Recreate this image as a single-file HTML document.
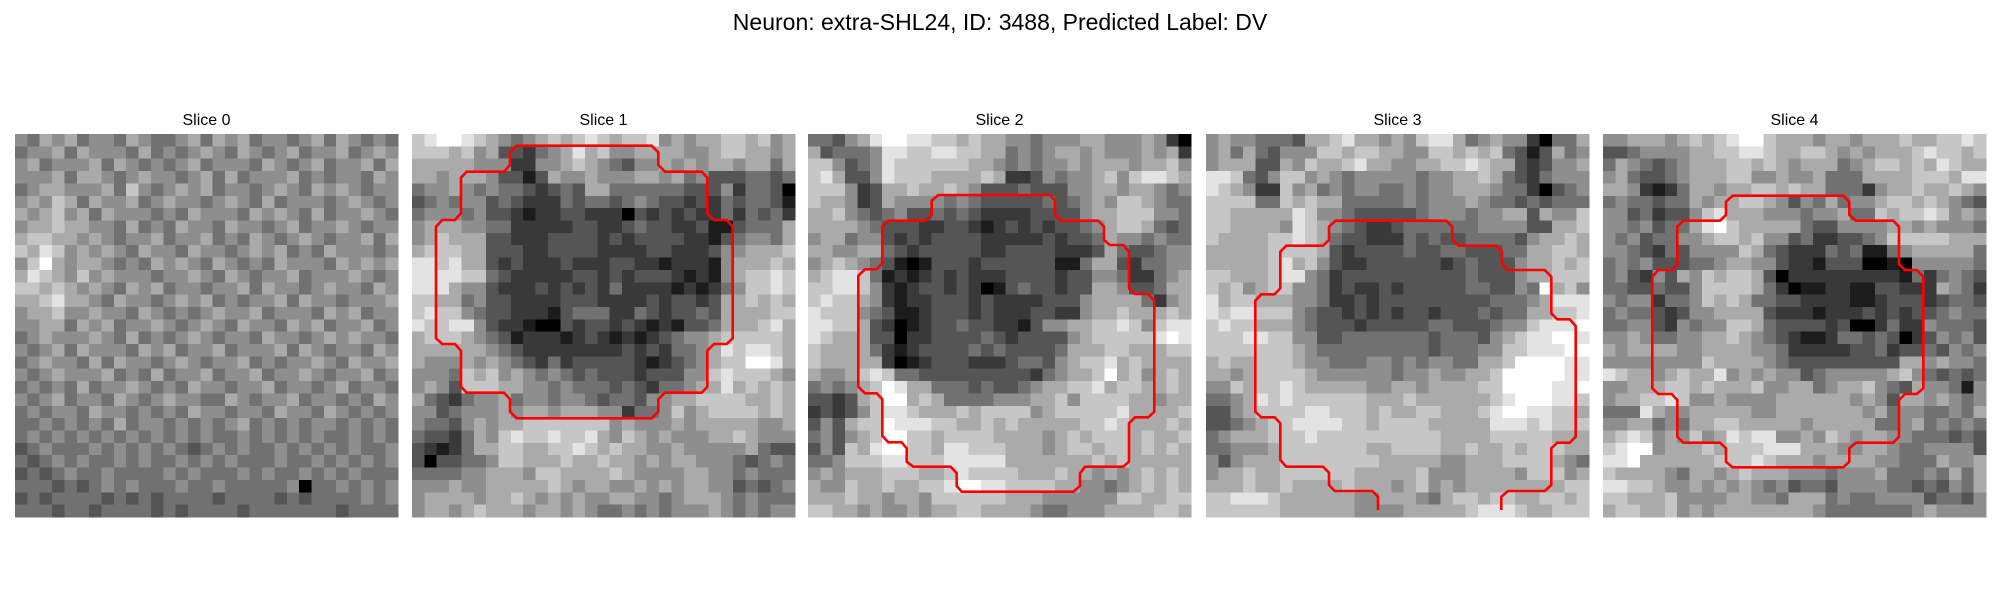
<!DOCTYPE html>
<html><head><meta charset="utf-8">
<style>
html,body{margin:0;padding:0;background:#fff;}
svg{display:block;font-family:"Liberation Sans","DejaVu Sans",sans-serif;}
</style></head>
<body>
<svg id="fig" width="2000" height="600" viewBox="0 0 2000 600" xmlns="http://www.w3.org/2000/svg">
<text x="1000" y="30" font-size="23" text-anchor="middle" fill="#000">Neuron: extra-SHL24, ID: 3488, Predicted Label: DV</text>
<g id="panels"></g>
</svg>
<script>
const sliceTitles = ["Slice 0","Slice 1","Slice 2","Slice 3","Slice 4"];
const panelX = [15, 412, 808, 1206, 1603];
const panelY = 134;
const panelSize = 383;
const gridN = 31;
const slice0 = [
"5465645546544564656455456465454","4556465554645456546545645564565","5645556465454564555465456455646",
"5556466545655456464555645455465","4566555647545656455456546565455","5657646556456554565464555456545",
"6567564655545465554656546455654","5667665546454655465545645565455","6776656545564556454654565455646",
"7687565654655465545656454655545","5796566545465654654546555465656","6876575655545565465455645556545",
"7767656546564554556465545655465","6678665465545656454556465545556","5667556554654545655645554656455",
"5566465645565456546554656455645","4565556546454565455465545656554","5456465554656455645556465455465",
"4565546465545654556454556546556","5456555645464556455645565455645","4545464556545465545564554564554",
"5456455465456554465455645545465","4545546554545465545546554654545","4454545464554545456454545545454",
"4545454545454545445454545445454","3454445454545434545445454545445","4345454454544545454445445454545",
"3434544544445454445454454545444","4443434545444544544444504454545","3434444343434444344443434444545",
"4443443444434344443444444434444"];
const slice1 = [
"7899876545676787677856566776756","7776756332456867556666556776656","6666655522556765435565656656646",
"6656665331365565556656453334434","4556545443234366444444333524430","3454553432224344345433232434431",
"4555453321223322203232322424342","5666554422222332234332231134446","5676663322233332323333221345546",
"6777663332233332222332223556667","8878663232223222332212221566676","8888774322222332323332121567787",
"8886553222323232422221212457787","7766453322223332222323323667676","7877543322213444224323343666677",
"8778853221003233232121334666786","6777654312221232121234556777776","6666665432222222232324456878876",
"6555656543242333332123456779986","5554767565454343332333557877765","5653777665545444343244566867676",
"6432455645545543443556677776676","5534555656656665524457567777676","5443565667777777565556566666556",
"4332465787787786576565556676555","3212466776677876766556555556433","3033445776667667665656655543454",
"4444556665776666765555665545444","5556556666676566556565665534345","5666656676565655665545666545444",
"5665676665665654454545556545455"];
const slice2 = [
"4435689988776766554555665556520","6344458877887766454566565556562","7753458777777665454556566656675",
"7863358777666676223545567578876","7775236676676533343335566566545","7665236555545433333434565776544",
"6675434533434322223333566777554","6666543332233212323233456776434","5664553232333322222323346554544",
"6655664323333322333322236433455","5676543101333233333311466324455","6788741212323222333323355422456",
"7788752123323201343323366533466","7877652122333232222333566664256","8777543112333232223322566766676",
"8877632012334332213556677875788","8766633022333343233335677777898","7666642123333434333346667766677",
"7666662012333222344356778676666","6556787443333333332456679675676","4545679866444343345667786776676",
"3323679967644445556675777766566","2323578876667677775677777866667","3536779888776676766666778766676",
"4535679977677776666567677767667","3537689977688777666567767767676","4457778877788888666666676766666",
"5656667776678777766676656567676","6557667667789988777766554567676","6667665665777777666555555776677",
"7766565565667766665445556666776"];
const slice3 = [
"5655444366786656578864565520446","5646435557767766557767674313645","5666336576678665566778766323556",
"8874357756545555545566764324555","8765227564545544545566654420345","7777447676644444545556544343444",
"7766666875543333345554556636557","7766665876543223444444555533667","7666677876433222434334444356676",
"6666677776323333433443334466776","6666678675322333333234333566767","7766678854233333333334333566777",
"7675677554232232333334433549675","8677666554223233333333344456888","8788777543323232332333434466778",
"7877666543332333334433345578889","7778877553344444443444356788998","7777777654444444443444557788899",
"6766777655444554545544667999988","6656777765555554556556679999988","5576778766666556656666779999889",
"4456878777777666766666678999887","3356777788777676677666789988776","3345677888877677776666688878777",
"4566677787777777777666677777666","4455567777777667777667667677766","5356667777777766666556667777654",
"5667667777776666675556666577756","6667667666676665675656666666677","7788876666665566654677677667767",
"7777776666665555666667888766777"];
const slice4 = [
"5566656767899766656656667667787","3345555667788766776565666787767","4654345666776765666456776768766",
"5643345666775565564446666777688","6652124665667767664442566766765","4544344656677653546455677676543",
"5534233578666555455644767787565","5545344689766666433555566565554","5453445567767553422334577777666",
"5543243555576432224341145666664","4545333445665532213330010555554","4532536576776302222222221424543",
"4433433577776420112211332226542","5455244576764433222211233323443","4544323556666322212223232334544",
"4455325455776433332300242254443","5565445566765432112443430235453","6566665566665542222233423343545",
"5555555576666543333333336656554","8766567668565655345555567543434","5566677676667556645667543655415",
"5667787556555566666656536656545","4448655666665566666665645544546","5566454667766666566666445645454",
"6787565756878855657656655444343","7899566676777888666556654455553","8896666667778766656666554446556",
"7666654665676665554555644454646","8877655656565453443555544343546","7766675555665546664544555534435",
"6776675656666666654444444565555"];
const slices = [slice0, slice1, slice2, slice3, slice4];

// Contours in 3x-zoom coordinates relative to the zoom origin
const contourOrigins = [null, [410,130], [805,130], [1203,130], [1600,130]];
const contourClosed = [false, true, true, false, true];
const contour1 = [[320,47],[725,47],[745,67],[745,105],[765,125],[875,125],[892,143],[892,250],[912,270],[950,270],[968,290],[968,625],[950,642],[912,642],[892,662],[892,770],[875,788],[765,788],[745,808],[745,845],[725,865],[320,865],[300,845],[300,808],[282,788],[170,788],[153,770],[153,662],[135,642],[97,642],[78,625],[78,290],[97,270],[135,270],[153,250],[153,143],[170,125],[282,125],[300,105],[300,67]];
const contour2 = [[400,195],[735,195],[750,212],[750,255],[768,272],[880,272],[897,290],[897,330],[915,345],[955,345],[972,365],[972,475],[990,492],[1030,492],[1048,512],[1048,845],[1030,862],[990,862],[972,880],[972,995],[955,1010],[840,1010],[825,1030],[825,1068],[805,1085],[470,1085],[455,1068],[455,1030],[437,1010],[325,1010],[305,995],[305,955],[290,937],[250,937],[232,918],[232,808],[215,790],[180,790],[160,770],[160,437],[180,418],[215,418],[232,400],[232,290],[250,272],[360,272],[380,255],[380,212]];
const contour3 = [[525,1140],[525,1100],[508,1083],[395,1083],[378,1065],[378,1028],[360,1010],[250,1010],[232,990],[232,880],[215,862],[175,862],[157,845],[157,512],[175,493],[215,493],[232,475],[232,365],[250,347],[360,347],[378,330],[378,290],[398,272],[730,272],[748,290],[748,330],[768,347],[880,347],[897,365],[897,403],[915,420],[1025,420],[1045,440],[1045,550],[1063,568],[1100,568],[1118,588],[1118,920],[1100,938],[1063,938],[1045,955],[1045,1065],[1025,1083],[915,1083],[895,1100],[895,1140]];
const contour4 = [[398,197],[730,197],[748,215],[748,255],[768,272],[880,272],[897,290],[897,403],[915,420],[950,420],[970,440],[970,775],[950,792],[915,792],[897,810],[897,920],[880,938],[768,938],[748,955],[748,995],[730,1012],[398,1012],[378,995],[378,955],[360,938],[250,938],[232,920],[232,810],[215,792],[175,792],[157,775],[157,440],[175,420],[215,420],[232,403],[232,290],[250,272],[360,272],[378,255],[378,215]];
const contours = [null, contour1, contour2, contour3, contour4];

const NS = "http://www.w3.org/2000/svg";
const root = document.getElementById("panels");
const cell = panelSize / gridN;
function xScale(p, c){ return panelX[p] + c * cell; }
function yScale(r){ return panelY + r * cell; }
function gray(v){ const g = Math.round(v * 255 / 9); return "rgb("+g+","+g+","+g+")"; }

for (let p = 0; p < slices.length; p++) {
  const g = document.createElementNS(NS, "g");
  
  
  root.appendChild(g);
  const t = document.createElementNS(NS, "text");
  
  
  t.setAttribute("x", panelX[p] + panelSize / 2);
  t.setAttribute("y", 125);
  t.setAttribute("font-size", "16");
  t.setAttribute("text-anchor", "middle");
  t.textContent = sliceTitles[p];
  g.appendChild(t);
  const hm = document.createElementNS(NS, "g");
  
  
  hm.setAttribute("shape-rendering", "crispEdges");
  g.appendChild(hm);
  const rows = slices[p];
  for (let r = 0; r < gridN; r++) {
    const row = rows[Math.min(r, rows.length - 1)];
    for (let c = 0; c < gridN; c++) {
      const v = parseInt(row[Math.min(c, row.length - 1)], 10);
      const rect = document.createElementNS(NS, "rect");
      
      
      const x0 = xScale(p, c), x1 = xScale(p, c + 1);
      const y0 = yScale(r), y1 = yScale(r + 1);
      rect.setAttribute("x", x0.toFixed(2));
      rect.setAttribute("y", y0.toFixed(2));
      rect.setAttribute("width", (x1 - x0 + 0.5).toFixed(2));
      rect.setAttribute("height", (y1 - y0 + 0.5).toFixed(2));
      rect.setAttribute("fill", gray(v));
      hm.appendChild(rect);
    }
  }
  if (contours[p]) {
    const o = contourOrigins[p];
    const pts = contours[p].map(q => (o[0] + q[0] / 3).toFixed(1) + "," + (o[1] + q[1] / 3).toFixed(1)).join(" ");
    const line = document.createElementNS(NS, contourClosed[p] ? "polygon" : "polyline");
    
    
    line.setAttribute("points", pts);
    line.setAttribute("fill", "none");
    line.setAttribute("stroke", "#ff0000");
    line.setAttribute("stroke-width", "2.6");
    line.setAttribute("stroke-linejoin", "round");
    g.appendChild(line);
  }
}
</script>
</body></html>
